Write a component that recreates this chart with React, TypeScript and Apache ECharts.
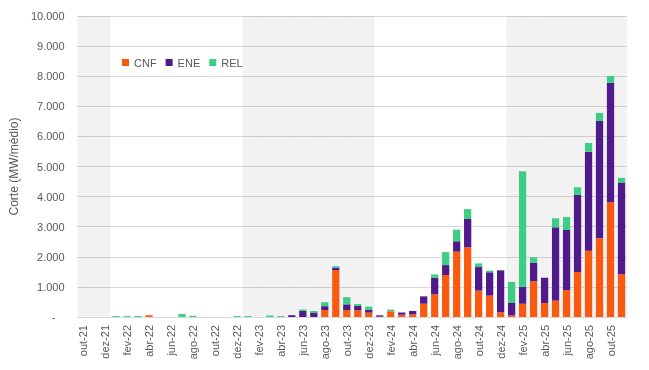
import React, { useEffect, useRef } from "react";
import * as echarts from "echarts";

const monthNames = ["jan", "fev", "mar", "abr", "mai", "jun", "jul", "ago", "set", "out", "nov", "dez"];
// out-21 .. nov-25
const categories: string[] = [];
(() => {
  let y = 21, m = 9;
  while (!(y === 25 && m === 11)) {
    categories.push(`${monthNames[m]}-${y}`);
    m++;
    if (m === 12) { m = 0; y++; }
  }
})();
const shadedYears = ["21", "23", "25"];

const CNF = [0, 0, 0, 0, 0, 0, 60, 0, 0, 0, 0, 0, 0, 0, 0, 0, 0, 0, 0, 0, 0, 0, 230, 1560, 230, 220, 145, 10, 190, 75, 90, 440, 750, 1395, 2170, 2315, 875, 710, 155, 55, 440, 1185, 465, 545, 895, 1495, 2205, 2615, 3810, 1420];
const ENE = [0, 0, 0, 0, 0, 0, 0, 0, 0, 0, 0, 0, 0, 0, 0, 0, 0, 0, 0, 60, 200, 150, 130, 80, 190, 145, 90, 45, 0, 75, 110, 245, 555, 330, 345, 940, 785, 775, 1395, 410, 555, 610, 840, 2435, 1995, 2560, 3285, 3895, 3975, 3045];
const REL = [0, 0, 0, 30, 30, 30, 0, 0, 0, 100, 40, 0, 0, 0, 30, 30, 0, 50, 30, 0, 50, 50, 130, 50, 240, 65, 110, 0, 55, 0, 0, 0, 110, 430, 390, 330, 120, 55, 0, 700, 3850, 190, 0, 300, 430, 255, 290, 270, 220, 155];

const yTicks = [0, 1000, 2000, 3000, 4000, 5000, 6000, 7000, 8000, 9000, 10000];

const textColor = "#595959";
const font = "Liberation Sans";

export default function App() {
  const ref = useRef<HTMLDivElement>(null);
  useEffect(() => {
    if (!ref.current) return;
    const chart = echarts.init(ref.current, null, { renderer: "svg" });
    const yMax = yTicks[yTicks.length - 1];
    const shade = categories.map((c) => (shadedYears.includes(c.slice(-2)) ? yMax : 0));
    const fmt = (v: number) =>
      v === 0 ? "-   " : String(v).replace(/\B(?=(\d{3})+(?!\d))/g, ".");
    chart.setOption({
      animation: false,
      textStyle: { fontFamily: font },
      grid: { left: 75, right: 22, top: 16, bottom: 53 },
      legend: {
        left: 117,
        top: 52,
        itemWidth: 7,
        itemHeight: 7,
        itemGap: 9,
        icon: "rect",
        textStyle: { color: textColor, fontSize: 11, fontFamily: font },
        data: ["CNF", "ENE", "REL"],
      },
      xAxis: [
        {
          type: "category",
          data: categories,
          axisLine: { lineStyle: { color: "#D9D9D9" } },
          axisTick: { interval: 1, length: 5, lineStyle: { color: "#BFBFBF" } },
          axisLabel: { interval: 1, rotate: 90, color: textColor, fontSize: 11, margin: 8, fontFamily: font },
        },
        { type: "category", data: categories, show: false },
      ],
      yAxis: {
        type: "value",
        min: 0,
        max: yMax,
        interval: 1000,
        name: "Corte (MW/médio)",
        nameLocation: "middle",
        nameGap: 52,
        nameTextStyle: { color: textColor, fontSize: 12, fontFamily: font },
        axisLine: { show: false },
        axisTick: { show: false },
        axisLabel: { color: textColor, fontSize: 11, margin: 13, formatter: fmt, fontFamily: font },
        splitLine: { lineStyle: { color: "#D9D9D9" } },
      },
      series: [
        {
          type: "bar",
          xAxisIndex: 1,
          data: shade,
          barWidth: "100%",
          itemStyle: { color: "rgba(0,0,0,0.05)" },
          silent: true,
          z: 0,
        },
        { name: "CNF", type: "bar", stack: "t", data: CNF, barWidth: "66%", itemStyle: { color: "#FA5A0F" } },
        { name: "ENE", type: "bar", stack: "t", data: ENE, itemStyle: { color: "#4F1A8A" } },
        { name: "REL", type: "bar", stack: "t", data: REL, itemStyle: { color: "#3DCD84" } },
      ],
    });
    return () => chart.dispose();
  }, []);
  return <div ref={ref} style={{ position: "fixed", left: 0, top: 0, width: 649, height: 370 }} />;
}
